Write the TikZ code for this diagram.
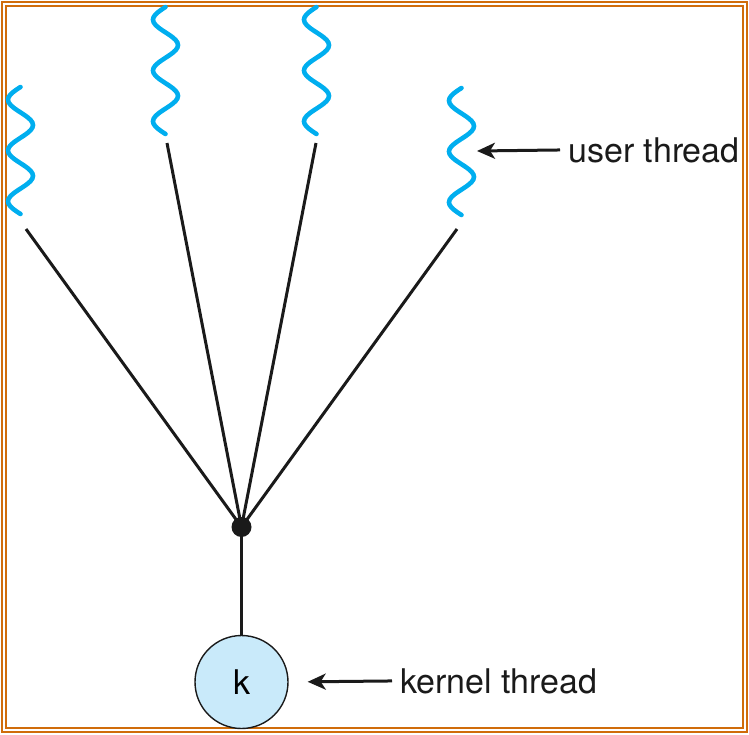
\documentclass[tikz,border=0pt]{standalone}
\usepackage{fontspec}
\setmainfont{TeX Gyre Heros}
\usepackage{tikz}
\usepackage{xcolor}
\usetikzlibrary{positioning, arrows.meta}
\definecolor{Frame}{HTML}{D06C0A}
\definecolor{ThreadBlue}{HTML}{00AEEF}
\definecolor{KernelFill}{HTML}{C9EAFA}
\definecolor{Ink}{HTML}{1A1A1A}

\begin{document}
\begin{tikzpicture}[
    x=1pt, y=-1pt,
    frame/.style={draw=Frame, line width=2.2pt},
    uthread/.style={draw=ThreadBlue, line width=4.6pt, line cap=round},
    link/.style={draw=Ink, line width=3pt},
    hubdot/.style={circle, fill=Ink, inner sep=0pt, minimum size=20pt},
    kthread/.style={circle, draw=Ink, line width=1.4pt, fill=KernelFill, inner sep=0pt, minimum size=93pt, font=\fontsize{34pt}{40pt}\selectfont},
    lbl/.style={inner sep=0pt, anchor=base west, text=Ink, font=\fontsize{34pt}{40pt}\selectfont},
    arr/.style={-{Stealth[length=18pt, width=16pt, inset=5pt]}, draw=Ink, line width=3pt, shorten <=8pt}
]
\useasboundingbox (0,0) rectangle (749,734);

% Double frame
\draw[frame] (2,2) rectangle (747,732);
\draw[frame] (6,6) rectangle (743,728);

% User threads
\foreach \wx/\wy in {20.5/87, 165.5/7, 316.5/7, 461.5/88}
  \draw[uthread] plot[smooth, domain=0:127, samples=51] ({\wx - 12.5*sin(\x/50.8*360)}, {\wy + \x});

% Line ends below the threads
\coordinate (u1) at (26,229);
\coordinate (u2) at (167,143);
\coordinate (u3) at (316,143);
\coordinate (u4) at (457,229);
\coordinate (u4mid) at (477,151);

% Hub and kernel thread
\node[hubdot] (hub) at (241.5,527) {};
\node[kthread] (k) at (241.5,682) {k};

\draw[link] (u1) -- (hub.center);
\draw[link] (u2) -- (hub.center);
\draw[link] (u3) -- (hub.center);
\draw[link] (u4) -- (hub.center);
\draw[link] (hub.center) -- (k.north);

% Labels
\node[lbl] (ulabel) at (568,162) {user thread};
\node[lbl] (klabel) at (400,693) {kernel thread};
\draw[arr] (ulabel.west) -- (u4mid);
\draw[arr, shorten >=19pt] (klabel.west) -- (k.east);

\end{tikzpicture}
\end{document}
